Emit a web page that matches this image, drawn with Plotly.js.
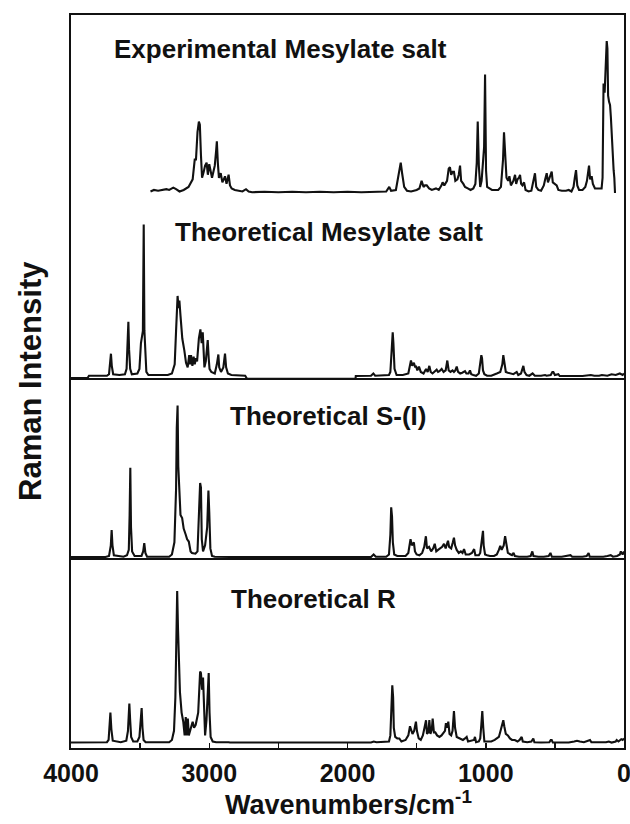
<!DOCTYPE html>
<html>
<head>
<meta charset="utf-8">
<script src="https://cdn.plot.ly/plotly-3.0.1.min.js"></script>
<style>html,body{margin:0;padding:0;background:#fff;}#chart{width:630px;height:824px;}</style>
</head>
<body>
<div id="chart"></div>
<script>
// ---- Data (wavenumber cm-1, relative Raman intensity %) ----
const expWn = [3425,3400,3370,3340,3310,3290,3260,3240,3215,3185,3150,3120,3105,3096,3085,3075,3068,3060,3052,3040,3030,3019,3010,3000,2992,2980,2970,2960,2950,2945,2938,2930,2917,2905,2895,2886,2875,2860,2850,2838,2815,2790,2760,2734,2715,2690,2600,2500,2400,2300,2200,2100,2000,1900,1800,1760,1720,1698,1685,1650,1630,1615,1605,1590,1570,1540,1500,1480,1464,1450,1440,1427,1410,1390,1360,1340,1320,1312,1300,1280,1268,1259,1250,1240,1230,1220,1205,1195,1186,1178,1162,1150,1130,1110,1090,1075,1065,1058,1050,1040,1030,1022,1012,1005,998,990,975,955,935,910,890,880,875,868,860,850,838,829,818,800,788,780,770,760,752,744,735,723,712,690,670,655,644,635,620,600,580,570,559,550,540,523,515,500,487,475,450,420,400,380,365,356,347,338,325,300,280,268,260,253,245,234,225,210,190,175,162,155,152,148,140,130,125,120,115,108,101,95,88,82,75,70,65];
const expI  = [1,2,1.5,2,2.5,2,3.5,2.5,1,2,4,9,22,22,40,47,45,25,10,14,18,20,12,19,16,10,14,18,28,34,20,10,13,7,9,11,6,12,5,3,2,1.5,1,2.5,1,0.5,0.8,0.5,0.8,0.5,0.8,0.5,0.8,0.5,0.8,0.5,1,4,1.5,2,12,20,13,4,1.5,1,2,3,8,4,5,5,3,2,3,2,5,7,5,8,16,17,12,14,14,8,9,12,18,8,6,4,3,2,3,6,20,47,18,4,8,16,30,78,15,4,3,2,2,2,4,15,22,40,22,10,8,11,5,8,12,6,9,10,12,6,5,7,2,1,1.5,8,13,4,2,1.5,5,9,13,7,10,14,7,6,5,2,1.5,1.5,2,1,4,10,15,5,2,2,4,8,12,18,9,11,6,3,3,3,3,10,40,72,66,90,100,95,64,60,58,50,34,32,15,10,0];

const tmWn = [4000,3880,3870,3740,3725,3716,3711,3705,3695,3650,3610,3598,3590,3585,3580,3572,3560,3520,3505,3498,3494,3480,3474,3469,3462,3455,3440,3300,3270,3250,3240,3232,3229,3222,3216,3208,3195,3180,3168,3156,3145,3138,3132,3122,3113,3105,3096,3088,3075,3064,3055,3047,3040,3035,3025,3011,3004,2998,2985,2960,2945,2934,2928,2915,2898,2886,2878,2865,2840,2740,2727,1942,1940,1830,1813,1800,1700,1690,1682,1676,1673,1668,1660,1645,1600,1560,1548,1541,1532,1520,1510,1505,1495,1483,1470,1450,1432,1420,1408,1398,1385,1370,1355,1345,1335,1319,1305,1290,1278,1268,1255,1240,1230,1220,1210,1200,1185,1170,1150,1140,1125,1114,1105,1090,1070,1050,1040,1032,1027,1020,1010,990,960,940,920,895,880,873,866,855,840,820,800,776,765,745,735,728,720,705,685,661,645,600,571,560,530,518,511,500,475,465,420,300,240,215,180,160,120,90,60,30,10,0];
const tmI  = [-1,-1,0.5,0.5,1.5,8,15,7,1.5,1,1.5,5,20,36,18,5,1.5,2,5,20,22,30,100,30,8,3,1,1,2,8,30,50,53,45,50,40,25,17,9,6,14,8,14,7,13,8,12,10,25,31,22,29,12,6,10,24,12,5,3,2,8,14.5,6,3,6,15,6,2,1,0.5,-1.5,-1.5,0.3,0.5,2,0.5,1,3,15,25,29,22,5,1,1,2,7,10.5,7,9,6,7,4,6.5,3,2,5,3,7,3,2,3,4.5,3,3.5,5,3,4,10.5,4,3,4,3,4,6.5,3,2,2.5,3.5,2,2,4,1.5,1,0.5,2,10,14,12,4,1.5,0.5,0.5,1,2,3,8,14,9,3,2.5,2,1.5,3,1,2,5,7,3,1,0.5,2,0.5,0.5,1,0.5,1,3,3,1,1.5,0.3,0.3,0.3,1,0.5,0.5,1,0.5,1.5,1,2,1,2];

const sWn = [4000,3750,3725,3712,3706,3700,3690,3620,3595,3582,3576,3571,3566,3558,3540,3490,3478,3470,3462,3450,3290,3270,3252,3240,3235,3229,3224,3216,3208,3196,3185,3170,3160,3148,3135,3125,3100,3085,3072,3066,3060,3054,3045,3030,3015,3006,3000,2992,2980,2960,2850,1830,1811,1795,1720,1700,1690,1684,1678,1672,1662,1640,1580,1560,1548,1544,1535,1520,1512,1500,1480,1460,1445,1433,1425,1410,1395,1380,1369,1358,1345,1330,1315,1302,1290,1280,1273,1265,1250,1238,1230,1222,1210,1195,1180,1168,1157,1145,1120,1100,1084,1075,1050,1040,1028,1020,1015,1005,990,970,940,920,905,895,885,870,860,852,840,820,810,799,790,760,700,675,663,655,620,580,545,532,522,450,400,387,375,300,270,256,248,200,150,120,96,80,50,30,23,10,0];
const sI  = [0.3,0.3,1,8,18,8,1.5,0.5,1.5,5,28,59,20,4,1,1,4,9.4,3,0.5,0.5,2,10,45,85,100,60,43,28,26,19,15,12,10.5,4,3,2.5,4,30,49,46,12,4,8,20,44,30,6,1,0.5,0.3,0.3,2,0.5,0.5,2,15,33,27,10,2,1,1,3,10,12,8,10,4,2,1.5,3,7,14,6,7,4,6,9,4,5,6,7,9,6,9,11,7,6,10,13,8,5,3,4,3,5.5,2,2,3,5.5,1.5,1.5,3,10,17.5,8,2,1.5,1,1,2,5,7.7,5,8,14,8,3,2,1.5,3,1,0.5,0.5,1,4,1,0.5,0.5,1,3,0.5,0.5,1,1.5,0.5,0.5,1,3,0.5,0.5,0.5,1,1.5,0.5,1,2,4,2,4];

const rWn = [4000,3790,3780,3740,3728,3720,3715,3708,3698,3640,3600,3588,3582,3578,3572,3565,3550,3520,3505,3495,3489,3483,3475,3460,3290,3270,3255,3245,3238,3232,3226,3220,3212,3200,3188,3178,3170,3163,3155,3148,3140,3120,3110,3098,3080,3066,3060,3052,3045,3038,3030,3020,3004,2998,2990,2975,2950,2860,2850,1830,1810,1790,1700,1690,1682,1676,1670,1665,1655,1640,1625,1610,1580,1560,1548,1540,1530,1518,1505,1498,1485,1470,1455,1443,1432,1425,1415,1408,1400,1390,1384,1375,1365,1352,1335,1320,1305,1295,1288,1278,1271,1262,1250,1240,1230,1222,1210,1190,1165,1150,1138,1128,1100,1085,1078,1070,1050,1040,1032,1025,1018,1010,990,960,935,920,905,890,880,873,866,855,840,825,810,790,770,755,740,732,700,670,656,648,600,540,530,523,515,460,400,360,340,320,290,260,246,236,180,130,110,90,60,53,40,20,10,0];
const rI  = [0.3,0.3,0.5,0.5,2,10,20,9,1.5,0.5,1.5,8,25,26,15,4,1,1,4,18,23,10,2,0.5,0.5,2,8,30,78,100,75,51,33.5,20,14,5,17,5,16,5,8,14,10,12,20,47,46,35,43,20,5,15,46,20,4,1,0.5,0.5,0.3,0.3,1,0.5,1,5,25,38,30,10,4,3,3,1,2,5,11,9,6,8,14,8,3,2,5,10,15,6,7,15,6,9,16,7,7,5,4,5,7,8,13,10,14,6,5,8,21,10,4,3,2,3,4,1,1.5,2,4,0.5,1,3,12,21,10,1,1,1,2,3,4,9,13,15,11,6,5,3,2,2,1,2,4,1,0.5,1,3,0.5,0.3,0.5,2,2,0.3,0.3,0.3,1,1.5,1,0.5,1.5,2,0.5,0.3,0.5,1,0.3,1,2,1,2.5,2,3];

const panelLabels = ["Experimental Mesylate salt","Theoretical Mesylate salt","Theoretical S-(I)","Theoretical R"];
const xMajorTicks = [0,1000,2000,3000,4000];
const xTickText = ["0","1000","2000","3000","4000"];

// ---- Layout constants (pixel-like vertical units) ----
const S = 1.52;            // px per 1 % intensity
const baseR = 5, baseS = 190.5, baseTM = 371.5, baseExp = 555;
const div1 = 189, div2 = 369;
const F = "Liberation Sans, Arial, Helvetica, sans-serif";

function tr(wn, I, base) {
  return {x: wn, y: I.map(v => base + v * S), type: 'scatter', mode: 'lines',
          line: {color: '#111', width: 2.1}, hoverinfo: 'skip', showlegend: false};
}

const data = [tr(expWn, expI, baseExp), tr(tmWn, tmI, baseTM), tr(sWn, sI, baseS), tr(rWn, rI, baseR)];

const L = 71, Rr = 624, T = 15, B = 748;
const px2x = p => (p - L) / (Rr - L);
const px2y = p => (B - p) / (B - T);
// label positions in pixels (left x, center y)
const lab = [[112, 49], [173, 232], [228, 416], [229, 599]];
const annotations = panelLabels.map((t, i) => ({
  text: '<b>' + t + '</b>', xref: 'paper', yref: 'paper',
  x: px2x(lab[i][0]), y: px2y(lab[i][1]),
  xanchor: 'left', yanchor: 'middle', showarrow: false,
  font: {family: F, size: 26, color: '#111', weight: 'bold'}
}));
annotations.push({
  text: '<b>Raman Intensity</b>', xref: 'paper', yref: 'paper',
  x: px2x(30), y: px2y(381), textangle: -90,
  xanchor: 'center', yanchor: 'middle', showarrow: false,
  font: {family: F, size: 31, color: '#111', weight: 'bold'}
});
annotations.push({
  text: '<b>Wavenumbers/cm<sup>-1</sup></b>', xref: 'paper', yref: 'paper',
  x: px2x(348), y: px2y(822), xanchor: 'center', yanchor: 'bottom', showarrow: false,
  font: {family: F, size: 27, color: '#111', weight: 'bold'}
});

const layout = {
  width: 630, height: 824,
  margin: {l: L, r: 630 - Rr, t: T, b: 824 - B},
  paper_bgcolor: '#fff', plot_bgcolor: '#fff',
  xaxis: {
    range: [4000, 0], tickmode: 'array', tickvals: xMajorTicks, ticktext: xTickText,
    ticks: 'inside', ticklen: 5, tickwidth: 1.5, tickcolor: '#111',
    minor: {dtick: 500, tick0: 0, ticks: 'inside', ticklen: 5, tickwidth: 1.5, tickcolor: '#111', showgrid: false},
    showline: true, mirror: true, linewidth: 2, linecolor: '#111',
    showgrid: false, zeroline: false, ticklabelstandoff: 2, ticklabeloverflow: 'allow',
    tickfont: {family: F, size: 25, color: '#111', weight: 'bold'}
  },
  yaxis: {
    range: [0, B - T], showticklabels: false, ticks: '',
    showline: true, mirror: true, linewidth: 2, linecolor: '#111',
    showgrid: false, zeroline: false, fixedrange: true
  },
  shapes: [div1, div2].map(v => ({type: 'line', xref: 'paper', x0: 0, x1: 1, yref: 'y', y0: v, y1: v,
                                  line: {color: '#111', width: 2}})),
  annotations: annotations
};

Plotly.newPlot('chart', data, layout, {displayModeBar: false, staticPlot: true});
</script>
</body>
</html>
